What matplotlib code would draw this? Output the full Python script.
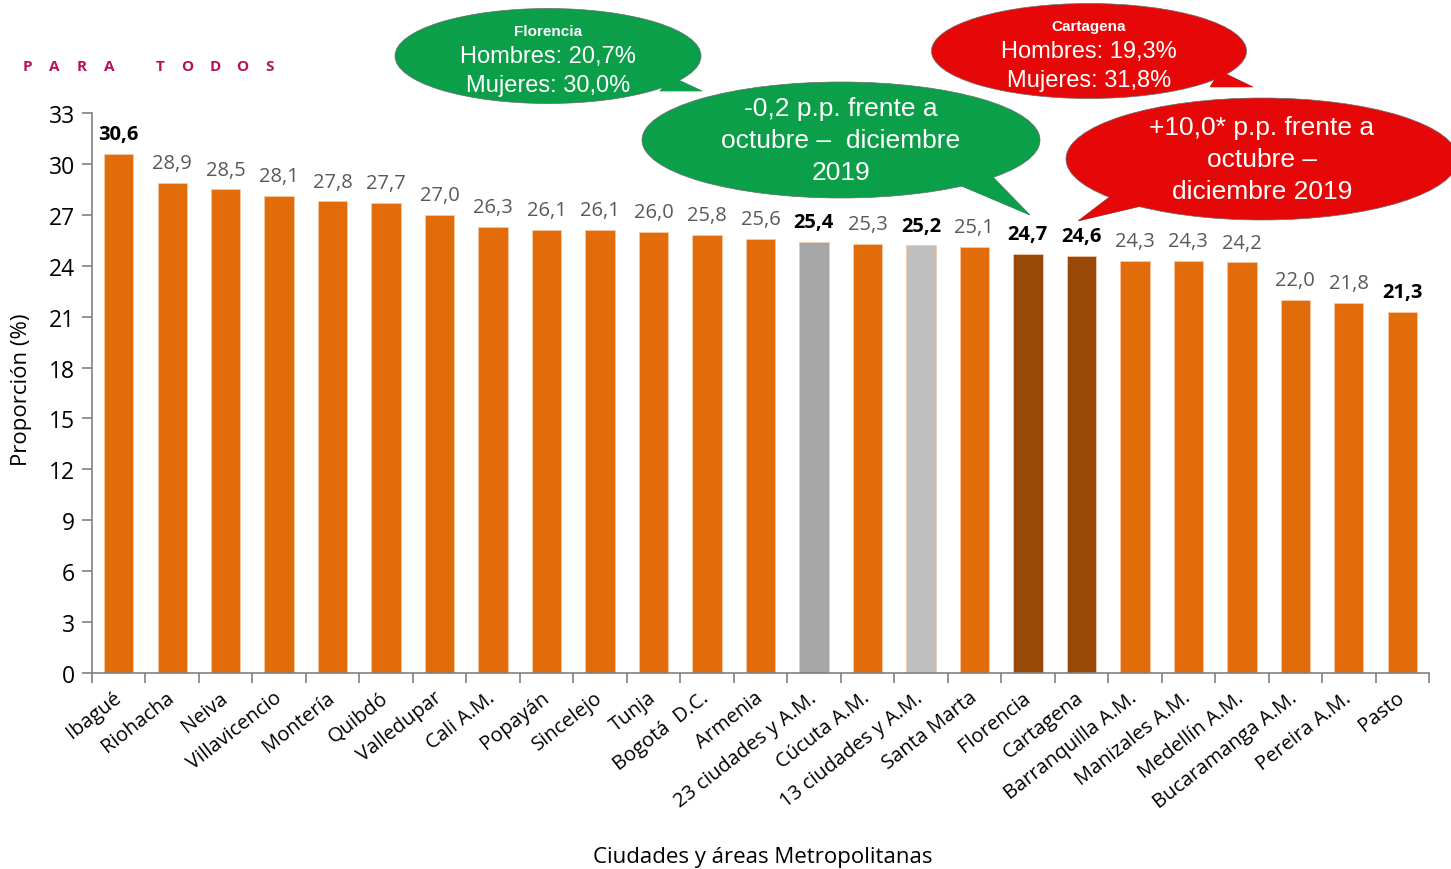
import matplotlib.pyplot as plt
from matplotlib.patches import Ellipse, Polygon
import numpy as np

# datos
ciudades = ['Ibagué', 'Riohacha', 'Neiva', 'Villavicencio', 'Montería', 'Quibdó',
            'Valledupar', 'Cali A.M.', 'Popayán', 'Sincelejo', 'Tunja', 'Bogotá  D.C.',
            'Armenia', '23 ciudades y A.M.', 'Cúcuta A.M.', '13 ciudades y A.M.',
            'Santa Marta', 'Florencia', 'Cartagena', 'Barranquilla A.M.',
            'Manizales A.M.', 'Medellín A.M.', 'Bucaramanga A.M.', 'Pereira A.M.', 'Pasto']
valores = [30.6, 28.9, 28.5, 28.1, 27.8, 27.7, 27.0, 26.3, 26.1, 26.1, 26.0, 25.8,
           25.6, 25.4, 25.3, 25.2, 25.1, 24.7, 24.6, 24.3, 24.3, 24.2, 22.0, 21.8, 21.3]
resaltados = ['Ibagué', '23 ciudades y A.M.', '13 ciudades y A.M.', 'Florencia', 'Cartagena', 'Pasto']
colores_esp = {'23 ciudades y A.M.': '#A6A6A6', '13 ciudades y A.M.': '#BFBFBF',
               'Florencia': '#984807', 'Cartagena': '#984807'}

burbujas = [
    # (titulo, lineas, color, centro, ancho, alto, cola)
    ('Florencia', ['Hombres: 20,7%', 'Mujeres: 30,0%'], '#0A9F48',
     (548, 57), 306, 95, [(672, 78), (702, 92), (660, 92)]),
    ('Cartagena', ['Hombres: 19,3%', 'Mujeres: 31,8%'], '#E60808',
     (1089, 52), 315, 95, [(1220, 72), (1253, 88), (1210, 88)]),
    (None, ['-0,2 p.p. frente a', 'octubre \u2013  diciembre', '2019'], '#0A9F48',
     (841, 141), 398, 116, [(945, 180), (1030, 216), (985, 170)]),
    (None, ['+10,0* p.p. frente a', 'octubre \u2013', 'diciembre 2019'], '#E60808',
     (1262, 160), 392, 122, [(1120, 190), (1078, 222), (1150, 205)]),
]

plt.rcParams['font.family'] = ['Open Sans', 'DejaVu Sans']

fig = plt.figure(figsize=(14.51, 8.70), dpi=100)
ax = fig.add_axes([92 / 1451, 1 - 674 / 870, (1429 - 92) / 1451, (674 - 114) / 870])

x = np.arange(len(ciudades))
colores = [colores_esp.get(c, '#E36C0A') for c in ciudades]
ax.bar(x, valores, width=0.55, color=colores, edgecolor='#F6C9A6', linewidth=0.6, zorder=2)

for xi, v, c in zip(x, valores, ciudades):
    txt = f'{v:.1f}'.replace('.', ',')
    if c in resaltados:
        ax.annotate(txt, (xi, v), xytext=(0, 7), textcoords='offset points',
                    ha='center', va='bottom', fontsize=14.5, fontweight='bold', color='black')
    else:
        ax.annotate(txt, (xi, v), xytext=(0, 7), textcoords='offset points',
                    ha='center', va='bottom', fontsize=14.5, color='#595959')

ax.set_ylim(0, 33)
ax.set_xlim(-0.5, len(ciudades) - 0.5)
ax.set_yticks(np.arange(0, 34, 3))
ax.tick_params(axis='y', labelsize=16.5, length=7, color='#808080', width=1.2, pad=5)
ax.set_xticks(x)
ax.set_xticklabels(ciudades, rotation=38, ha='right', va='center', rotation_mode='anchor', fontsize=14.5)
ax.tick_params(axis='x', length=0, pad=16)
ax.set_xticks(np.arange(-0.5, len(ciudades), 1), minor=True)
ax.tick_params(axis='x', which='minor', length=7, color='#808080', width=1.2)
for s in ['top', 'right']:
    ax.spines[s].set_visible(False)
for s in ['left', 'bottom']:
    ax.spines[s].set_color('#808080')
    ax.spines[s].set_linewidth(1.2)

fig.text(763 / 1451, 1 - 858 / 870, 'Ciudades y áreas Metropolitanas', ha='center', va='center', fontsize=16)
fig.text(22 / 1451, 1 - 390 / 870, 'Proporción (%)', ha='center', va='center', rotation=90, fontsize=16)

# "PARA TODOS" con letras espaciadas
xl = 27
for ch in 'PARA TODOS':
    if ch == ' ':
        xl += 23
        continue
    fig.text(xl / 1451, 1 - 67 / 870, ch, ha='center', va='center',
             fontsize=11, fontweight='bold', color='#B5125B')
    xl += 27.5

# capa para las burbujas en pixeles
ov = fig.add_axes([0, 0, 1, 1], zorder=5)
ov.set_xlim(0, 1451)
ov.set_ylim(870, 0)
ov.axis('off')
ov.patch.set_alpha(0)
for titulo, lineas, col, centro, w, h, cola in burbujas:
    ov.add_patch(Polygon(cola, closed=True, facecolor=col, edgecolor='#6a6a6a', linewidth=0.5, zorder=1))
    ov.add_patch(Ellipse(centro, w, h, facecolor=col, edgecolor='#6a6a6a', linewidth=0.5, zorder=2))
    ov.add_patch(Polygon(cola, closed=True, facecolor=col, edgecolor='none', zorder=3))
    cx, cy = centro
    if titulo:
        ov.text(cx, cy - 25, titulo, ha='center', va='center', fontsize=11, fontweight='bold',
                color='white', family=['Liberation Sans'], zorder=4)
        ov.text(cx, cy, lineas[0], ha='center', va='center', fontsize=17, color='white',
                family=['Liberation Sans'], zorder=4)
        ov.text(cx, cy + 29, lineas[1], ha='center', va='center', fontsize=17, color='white',
                family=['Liberation Sans'], zorder=4)
    else:
        for k, l in enumerate(lineas):
            ov.text(cx, cy - 32 + 32 * k, l, ha='center', va='center', fontsize=19, color='white',
                    family=['Liberation Sans'], zorder=4)

fig.savefig('out.png', dpi=100)
